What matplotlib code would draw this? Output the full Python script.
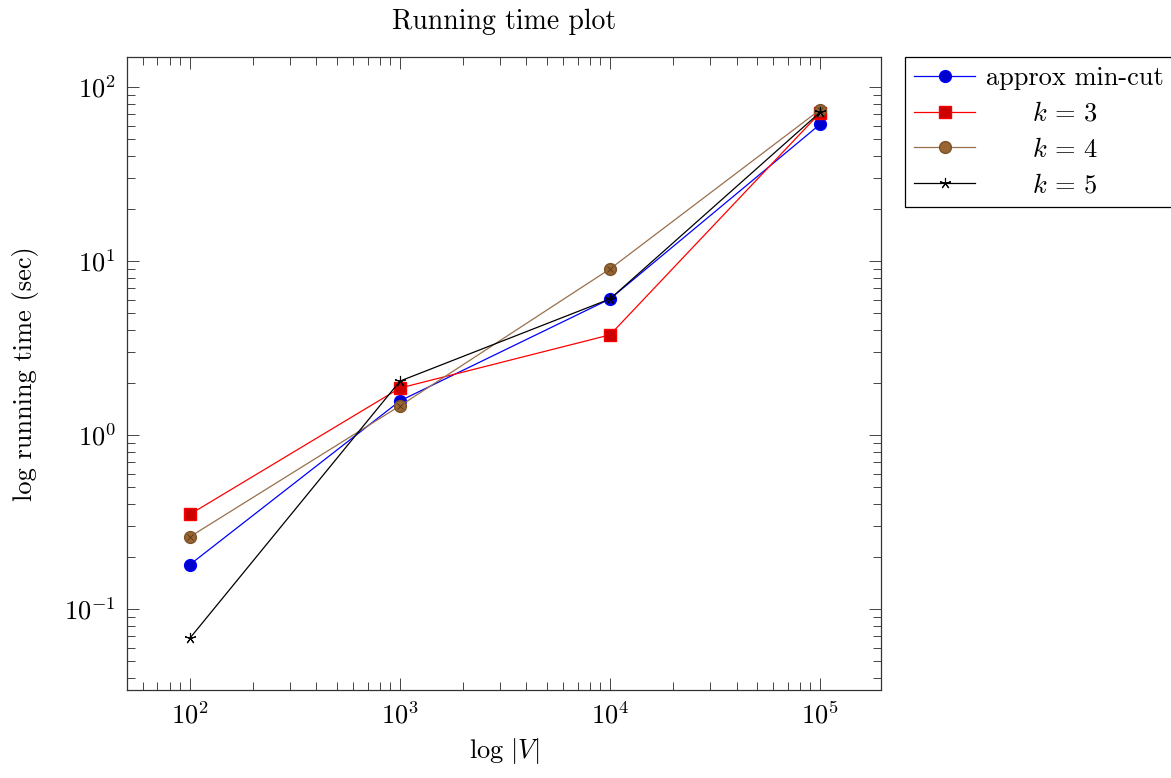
import matplotlib
matplotlib.use("Agg")
import matplotlib.pyplot as plt
from matplotlib.ticker import LogLocator, NullFormatter

plt.rcParams['font.family'] = 'serif'
plt.rcParams['font.serif'] = ['cmr10']
plt.rcParams['mathtext.fontset'] = 'cm'
plt.rcParams['axes.formatter.use_mathtext'] = True
plt.rcParams['axes.unicode_minus'] = False

sizes = [1e2, 1e3, 1e4, 1e5]
approx_mincut = [0.18, 1.57, 6.05, 61.0]
k3 = [0.35, 1.86, 3.76, 71.0]
k4 = [0.26, 1.47, 9.0, 74.0]
k5 = [0.068, 2.04, 6.05, 71.5]

labels = ["approx min-cut", r"$\qquad k\, =\, 3$", r"$\qquad k\, =\, 4$", r"$\qquad k\, =\, 5$"]

fig = plt.figure(figsize=(11.71, 7.78), dpi=100)
ax = fig.add_axes([127/1171, 88/778, (881-127)/1171, (690-57)/778])

fs = 19
ax.plot(sizes, approx_mincut, color='#0000ff', lw=0.9, marker='o', ms=8.5,
        mfc='#0000cc', mec='#0000ff', label=labels[0])
ax.plot(sizes, k3, color='#ff0000', lw=0.9, marker='s', ms=8,
        mfc='#cc0000', mec='#ff0000', label=labels[1])
ax.plot(sizes, k4, color='#99704c', lw=0.9, marker='o', ms=8.5,
        mfc='#996633', mec='#7a5229', label=labels[2])
ax.plot(sizes, k4, ls='none', marker='x', ms=5, mew=0.7, color='#5c3d1f')
ax.plot(sizes, k5, color='black', lw=0.9, marker=(5, 2, 0), ms=8, mew=0.8,
        label=labels[3])

ax.set_xscale('log')
ax.set_yscale('log')
ax.set_xlim(10**1.7, 10**5.29)
ax.set_ylim(10**-1.466, 10**2.172)

for axis in (ax.xaxis, ax.yaxis):
    axis.set_major_locator(LogLocator(base=10, numticks=20))
    axis.set_minor_locator(LogLocator(base=10, subs=range(2, 10), numticks=100))
    axis.set_minor_formatter(NullFormatter())

ax.tick_params(which='both', direction='in', top=True, right=True, labelsize=fs,
               color='#444444', width=0.7)
ax.tick_params(which='major', length=8.5, pad=8)
ax.tick_params(which='minor', length=5.5)
for s in ax.spines.values():
    s.set_linewidth(0.9)
    s.set_color('#333333')

ax.set_title("Running time plot", fontsize=20, pad=20)
ax.set_xlabel(r"$\log\,|V|$", fontsize=fs, labelpad=6)
ax.set_ylabel("log running time (sec)", fontsize=fs, labelpad=18)

leg = ax.legend(loc='upper left', bbox_to_anchor=(1.032, 1.0), borderaxespad=0,
                fontsize=fs, fancybox=False, framealpha=1, edgecolor='black',
                handlelength=2.3, labelspacing=0.45, handletextpad=0.4,
                borderpad=0.35)
leg.get_frame().set_linewidth(0.9)

fig.savefig("out.png", dpi=100)
